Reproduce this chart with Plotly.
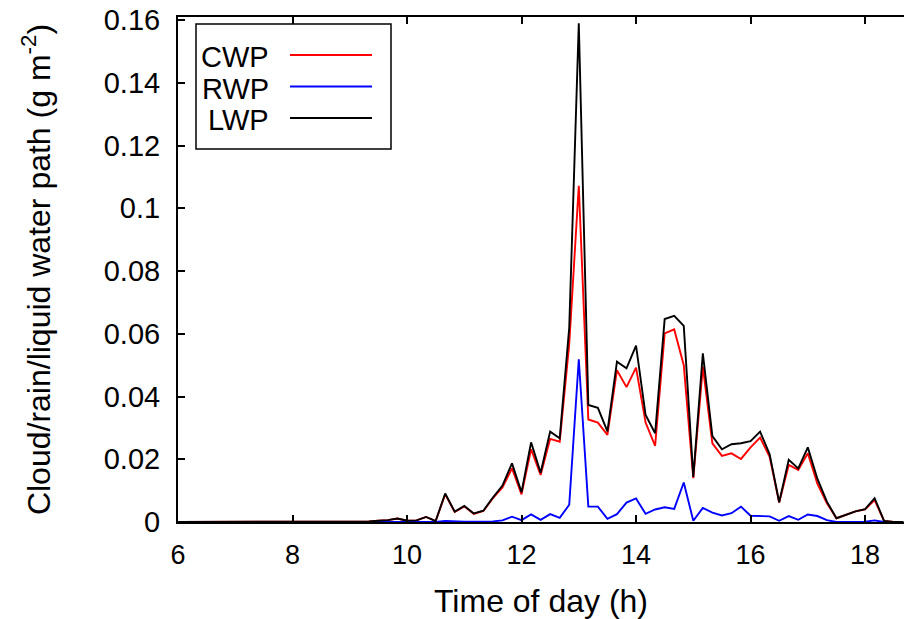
import plotly.graph_objects as go

# 10-minute samples starting at 06:00
cwp = [0, 0, 0, 0, 0, 0, 0, 0, 0, 0,
       0, 0, 0, 0, 0, 0, 0, 0, 0, 0,
       0.0002, 0.0004, 0.0006, 0.0011, 0.0004, 0.0005, 0.0016, 0.0003, 0.0088, 0.0032,
       0.0050, 0.0026, 0.0035, 0.0076, 0.0110, 0.0171, 0.0088, 0.0232, 0.0150, 0.0265,
       0.0256, 0.0568, 0.1072, 0.0327, 0.0317, 0.0278, 0.0484, 0.0430, 0.0492, 0.0317,
       0.0243, 0.0601, 0.0614, 0.0500, 0.0140, 0.0495, 0.0251, 0.0211, 0.0219, 0.0201,
       0.0238, 0.0269, 0.0208, 0.0062, 0.0182, 0.0166, 0.0219, 0.0122, 0.0060, 0.0012,
       0.0022, 0.0034, 0.0040, 0.0070, 0.0003, 0, 0]
rwp = [0, 0, 0, 0, 0, 0, 0, 0, 0, 0,
       0, 0, 0, 0, 0, 0, 0, 0, 0, 0,
       0, 0, 0, 0, 0, 0, 0, 0, 0.0003, 0.0001,
       0.0001, 0.0001, 0.0001, 0.0002, 0.0005, 0.0017, 0.0006, 0.0024, 0.0007, 0.0025,
       0.0013, 0.0055, 0.0519, 0.0049, 0.0049, 0.0010, 0.0025, 0.0062, 0.0075, 0.0026,
       0.0040, 0.0047, 0.0042, 0.0126, 0.0004, 0.0045, 0.0030, 0.0021, 0.0028, 0.0049,
       0.0020, 0.0020, 0.0018, 0.0004, 0.0019, 0.0007, 0.0024, 0.0019, 0.0006, 0,
       0, 0, 0.0001, 0.0005, 0, 0, 0]
lwp = [0, 0, 0, 0, 0, 0, 0, 0, 0, 0,
       0, 0, 0, 0, 0, 0, 0, 0, 0, 0,
       0.0002, 0.0004, 0.0006, 0.0011, 0.0004, 0.0005, 0.0016, 0.0003, 0.0091, 0.0033,
       0.0051, 0.0027, 0.0036, 0.0078, 0.0116, 0.0187, 0.0095, 0.0254, 0.0157, 0.0288,
       0.0267, 0.0620, 0.1590, 0.0373, 0.0364, 0.0289, 0.0511, 0.0490, 0.0562, 0.0341,
       0.0283, 0.0647, 0.0657, 0.0625, 0.0144, 0.0538, 0.0274, 0.0232, 0.0248, 0.0251,
       0.0258, 0.0288, 0.0216, 0.0063, 0.0198, 0.0171, 0.0238, 0.0138, 0.0065, 0.0012,
       0.0022, 0.0034, 0.0041, 0.0076, 0.0003, 0, 0]
hours = [round(6 + i / 6, 4) for i in range(len(cwp))]

series_names = ["CWP", "RWP", "LWP"]
series_colors = ["#ff0000", "#0000ff", "#000000"]
x_ticks = [6, 8, 10, 12, 14, 16, 18]
y_ticks = [0, 0.02, 0.04, 0.06, 0.08, 0.1, 0.12, 0.14, 0.16]
y_labels = ["0", "0.02", "0.04", "0.06", "0.08", "0.1", "0.12", "0.14", "0.16"]

FONT = "Liberation Sans, Arial, Helvetica, sans-serif"
W, H = 904, 619
ML, MR, MT, MB = 178, 0, 17, 97

fig = go.Figure()
for name, ys, col in zip(series_names, [cwp, rwp, lwp], series_colors):
    fig.add_trace(go.Scatter(x=hours, y=ys, mode="lines", name=name,
                             line=dict(color=col, width=1.9), showlegend=False))

fig.update_layout(
    width=W, height=H,
    margin=dict(l=ML, r=MR, t=MT, b=MB),
    paper_bgcolor="white", plot_bgcolor="white",
    font=dict(family=FONT, size=27, color="black"),
    xaxis=dict(range=[6, 18.68], tickvals=x_ticks, ticktext=[str(v) for v in x_ticks],
               ticks="inside", ticklen=7, tickwidth=1.5, tickcolor="black",
               showline=True, linecolor="black", linewidth=2, mirror="ticks",
               showgrid=False, zeroline=False, ticklabelstandoff=8,
               title=dict(text="Time of day (h)", standoff=20),
               tickfont=dict(size=27)),
    yaxis=dict(range=[0, 0.161], tickvals=y_ticks, ticktext=y_labels,
               ticks="inside", ticklen=7, tickwidth=1.5, tickcolor="black",
               showline=True, linecolor="black", linewidth=2, mirror=False,
               showgrid=False, zeroline=False, ticklabelstandoff=10,
               title=dict(text="Cloud/rain/liquid water path (g m<sup>-2</sup>)", standoff=44),
               tickfont=dict(size=29)),
)

# gnuplot-style key: label on the left, line sample on the right
pw, ph = W - ML - MR, H - MT - MB
def px(x):
    return (x - ML) / pw
def py(y):
    return (H - MB - y) / ph

fig.add_shape(type="rect", xref="paper", yref="paper",
              x0=px(196), x1=px(391), y0=py(149), y1=py(24),
              line=dict(color="black", width=1.5), fillcolor="white", layer="above")
for i, (name, col) in enumerate(zip(series_names, series_colors)):
    yy = 55 + i * 31.5
    fig.add_annotation(xref="paper", yref="paper", x=px(271), y=py(yy + 2),
                       text=name, showarrow=False, xanchor="right", yanchor="middle",
                       font=dict(size=29, family=FONT, color="black"))
    fig.add_shape(type="line", xref="paper", yref="paper",
                  x0=px(290), x1=px(372), y0=py(yy), y1=py(yy),
                  line=dict(color=col, width=1.9), layer="above")

fig.write_html("out.html")
